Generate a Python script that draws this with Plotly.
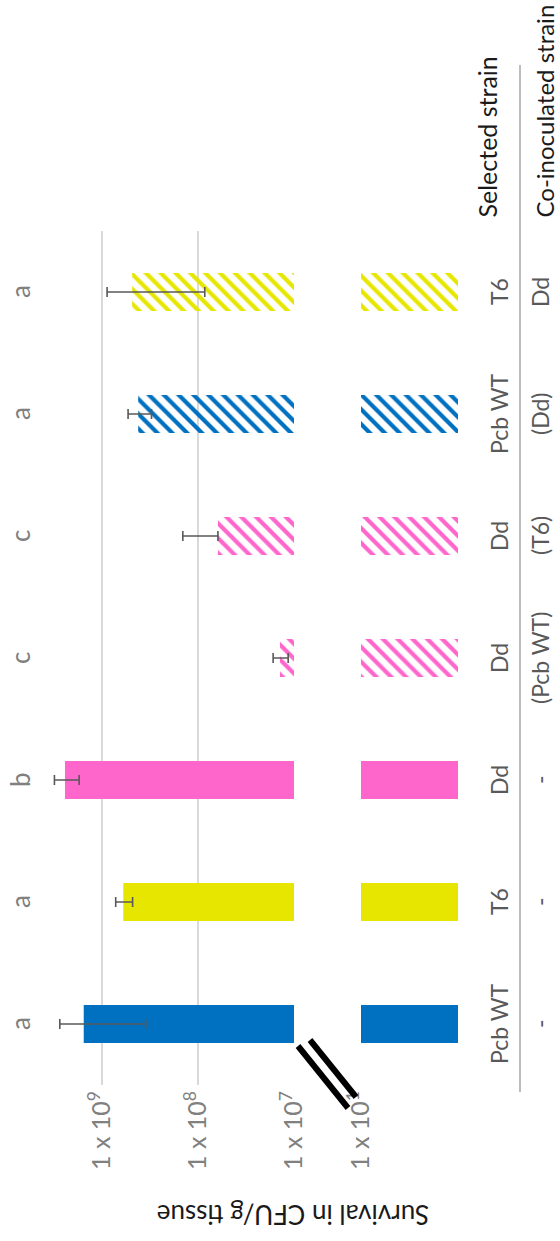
import plotly.graph_objects as go

# Strain combinations, listed bottom-to-top along the category axis
selected = ["Pcb WT", "T6", "Dd", "Dd", "Dd", "Pcb WT", "T6"]
coinoculated = ["-", "-", "-", "(Pcb WT)", "(T6)", "(Dd)", "Dd"]
letters = ["a", "a", "b", "c", "c", "a", "a"]

# Survival (CFU/g tissue) and error bars
survival = [1.55e9, 6.0e8, 2.43e9, 1.4e7, 6.2e7, 4.2e8, 4.85e8]
err_plus = [1.2e9, 1.2e8, 0.7e9, 0.25e7, 8.2e7, 1.15e8, 4.0e8]
err_minus = [1.2e9, 1.2e8, 0.7e9, 0.25e7, 0.0, 1.15e8, 4.0e8]

BLUE, YELLOW, PINK = "#0070C0", "#E6E600", "#FF66CC"
bar_colors = [BLUE, YELLOW, PINK, PINK, PINK, BLUE, YELLOW]
hatch = ["", "", "", "\\", "\\", "\\", "\\"]

tick_vals_top = [1e7, 1e8, 1e9]
tick_text_top = ["1 x 10<sup>7</sup>", "1 x 10<sup>8</sup>", "1 x 10<sup>9</sup>"]
tick_vals_low = [1, 10]
tick_text_low = [" ", "1 x 10<sup>1</sup>"]

keys = [f"{s} {c}" for s, c in zip(selected, coinoculated)]

W, H = 560, 1241
FONT = "Lato"


def px_x(p):
    return p / W


def px_y(p):
    return 1 - p / H


marker = dict(
    color=bar_colors,
    line=dict(width=0),
    pattern=dict(shape=hatch, fillmode="replace", bgcolor="white",
                 size=10.5, solidity=0.4),
)

fig = go.Figure()

# main (upper) segment of the broken value axis
fig.add_trace(go.Bar(
    y=keys, x=survival, orientation="h", xaxis="x", yaxis="y",
    marker=marker, width=0.31,
    error_x=dict(type="data", symmetric=False, array=err_plus,
                 arrayminus=err_minus, color="#595959", thickness=1.6, width=5),
    showlegend=False,
))

# lower stub segment of the broken axis
fig.add_trace(go.Bar(
    y=keys, x=survival, orientation="h", xaxis="x2", yaxis="y",
    marker=marker, width=0.31, showlegend=False,
))

grid = dict(showgrid=True, gridcolor="#D9D9D9", gridwidth=1.5,
            zeroline=False, showline=False, ticks="",
            tickangle=-90, tickfont=dict(family=FONT, size=25, color="#808080"))

fig.update_layout(
    width=W, height=H,
    margin=dict(l=0, r=0, t=0, b=0, autoexpand=False),
    paper_bgcolor="white", plot_bgcolor="white",
    xaxis=dict(type="log", range=[7 + 294 / 96, 7],
               domain=[0, px_x(294)], anchor="y", automargin=False,
               tickvals=tick_vals_top, ticktext=tick_text_top, **grid),
    xaxis2=dict(type="log", range=[1, 0],
                domain=[px_x(361), px_x(458)], anchor="y", automargin=False,
                tickvals=tick_vals_low, ticktext=tick_text_low, **grid),
    yaxis=dict(type="category", categoryorder="array", categoryarray=keys,
               range=[-0.5, 6.5], domain=[px_y(1085), px_y(231)],
               showticklabels=False, showgrid=False, zeroline=False,
               showline=False, ticks="", automargin=False),
)

ann = []
for k, s, c, l in zip(keys, selected, coinoculated, letters):
    ann.append(dict(x=px_x(499), y=k, xref="paper", yref="y", text=s,
                    xanchor="center", yanchor="middle",
                    showarrow=False, textangle=-90,
                    font=dict(family=FONT, size=23, color="#595959")))
    ann.append(dict(x=px_x(540), y=k, xref="paper", yref="y", text=c,
                    xanchor="center", yanchor="middle",
                    showarrow=False, textangle=-90,
                    font=dict(family=FONT, size=23, color="#595959")))
    ann.append(dict(x=px_x(20), y=k, xref="paper", yref="y", text=l,
                    xanchor="center", yanchor="middle",
                    showarrow=False, textangle=-90,
                    font=dict(family=FONT, size=26, color="#808080")))

ann.append(dict(x=px_x(486), y=px_y(220), xref="paper", yref="paper",
                xanchor="center", yanchor="bottom", text="Selected strain",
                showarrow=False, textangle=-90,
                font=dict(family=FONT, size=25, color="#1A1A1A")))
ann.append(dict(x=px_x(544), y=px_y(220), xref="paper", yref="paper",
                xanchor="center", yanchor="bottom", text="Co-inoculated strain",
                showarrow=False, textangle=-90,
                font=dict(family=FONT, size=24, color="#1A1A1A")))
ann.append(dict(x=px_x(293), y=px_y(1215), xref="paper", yref="paper",
                xanchor="center", yanchor="middle",
                text="Survival in CFU/g tissue", showarrow=False,
                textangle=180, font=dict(family=FONT, size=26, color="#1A1A1A")))
fig.update_layout(annotations=ann)

# category divider line and axis-break marks
shapes = [
    dict(type="line", xref="paper", yref="paper",
         x0=px_x(520), x1=px_x(520), y0=px_y(65), y1=px_y(1092),
         line=dict(color="#A6A6A6", width=1.5)),
    dict(type="line", xref="paper", yref="paper",
         x0=px_x(298), y0=px_y(1046), x1=px_x(348), y1=px_y(1108),
         line=dict(color="black", width=6)),
    dict(type="line", xref="paper", yref="paper",
         x0=px_x(310), y0=px_y(1040), x1=px_x(356), y1=px_y(1097),
         line=dict(color="black", width=6)),
]
fig.update_layout(shapes=shapes)

fig.write_html("out.html")
